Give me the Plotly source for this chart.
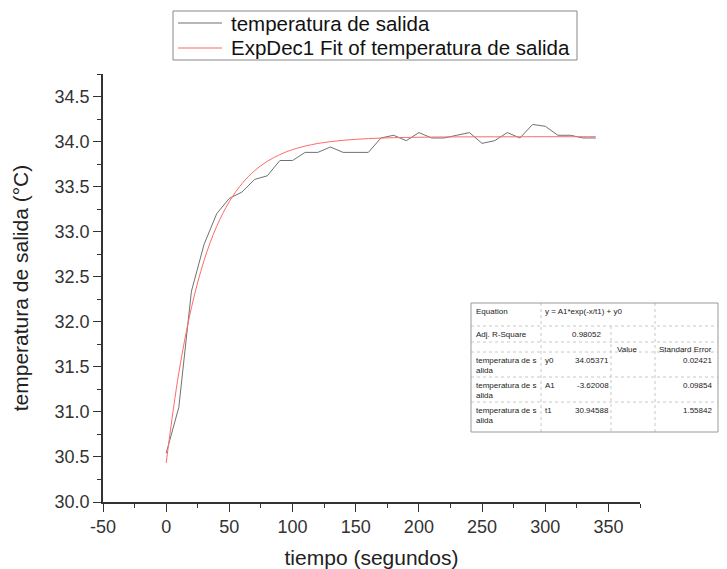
import plotly.graph_objects as go

# ---------------- data ----------------
tiempo = [0, 10, 20, 30, 40, 50, 60, 70, 80, 90, 100, 110, 120, 130, 140, 150, 160,
          170, 180, 190, 200, 210, 220, 230, 240, 250, 260, 270, 280, 290, 300, 310,
          320, 330, 340]
temperatura = [30.54, 31.05, 32.34, 32.86, 33.20, 33.37, 33.44, 33.58, 33.62, 33.79,
               33.79, 33.88, 33.88, 33.94, 33.88, 33.88, 33.88, 34.04, 34.07, 34.01,
               34.10, 34.04, 34.04, 34.07, 34.10, 33.98, 34.01, 34.10, 34.04, 34.19,
               34.17, 34.07, 34.07, 34.04, 34.04]
ajuste = [30.434, 31.433, 32.157, 32.681, 33.060, 33.334, 33.533, 33.677, 33.781,
          33.856, 33.911, 33.950, 33.979, 33.999, 34.014, 34.025, 34.033, 34.039,
          34.043, 34.046, 34.048, 34.050, 34.051, 34.052, 34.052, 34.053, 34.053,
          34.053, 34.053, 34.054, 34.054, 34.054, 34.054, 34.054, 34.054]

x_ticks = [-50, 0, 50, 100, 150, 200, 250, 300, 350]
x_ticklabels = ["-50", "0", "50", "100", "150", "200", "250", "300", "350"]

serie_datos = "temperatura de salida"
serie_ajuste = "ExpDec1 Fit of temperatura de salida"
x_titulo = "tiempo (segundos)"
y_titulo = "temperatura de salida (°C)"

tabla_etiquetas = ["Equation", "Adj. R-Square", "", "temperatura de s<br>alida",
                   "temperatura de s<br>alida", "temperatura de s<br>alida"]
tabla_param = ["y = A1*exp(-x/t1) + y0", "", "", "y0", "A1", "t1"]
tabla_valor = ["", "0.98052", "", "34.05371", "-3.62008", "30.94588"]
tabla_error = ["", "", "", "0.02421", "0.09854", "1.55842"]
tabla_cab = ["Value", "Standard Error"]

# ---------------- layout helpers ----------------
W, H = 727, 569
L, R, T, B = 103, 640, 74, 502


def px(x):
    return (x - L) / (R - L)


def py(y):
    return (B - y) / (B - T)


color_datos = "#707070"
color_ajuste = "#ff6a6a"

fig = go.Figure()
fig.add_trace(go.Scatter(x=tiempo, y=temperatura, mode="lines", name=serie_datos,
                         showlegend=False, line=dict(color=color_datos, width=1)))
fig.add_trace(go.Scatter(x=tiempo, y=ajuste, mode="lines", name=serie_ajuste,
                         showlegend=False,
                         line=dict(color=color_ajuste, width=1, shape="spline")))

font_fam = "Liberation Sans, Arial, sans-serif"
axis_common = dict(showline=True, linecolor="#333333", linewidth=1.5, ticks="outside",
                   ticklen=8, tickwidth=1.3, tickcolor="#333333", showgrid=False,
                   zeroline=False, mirror=False, automargin=False,
                   tickfont=dict(family=font_fam, size=18, color="#333333"))

shapes = []
annotations = []

# ---- legend box (drawn manually to match spacing) ----
shapes.append(dict(type="rect", xref="paper", yref="paper", x0=px(173), x1=px(577),
                   y0=py(60), y1=py(11), line=dict(color="#888888", width=1),
                   fillcolor="white", layer="above"))
for yc, name, col in [(23, serie_datos, color_datos), (48, serie_ajuste, color_ajuste)]:
    shapes.append(dict(type="line", xref="paper", yref="paper", x0=px(178), x1=px(222),
                       y0=py(yc), y1=py(yc), line=dict(color=col, width=1.2)))
    annotations.append(dict(xref="paper", yref="paper", x=px(229), y=py(yc),
                            xanchor="left", yanchor="middle", text=name, showarrow=False,
                            font=dict(family=font_fam, size=20.5, color="#111111")))

# ---- table ----
tx0, tx1 = 471, 718
col_lines = [541, 611, 655]
row_lines = [303, 326, 342, 352, 377, 402, 432]
gc = "#c8c8c8"
for yv in row_lines[1:-1]:
    shapes.append(dict(type="line", xref="paper", yref="paper", x0=px(tx0), x1=px(tx1),
                       y0=py(yv), y1=py(yv), line=dict(color=gc, width=1, dash="dot")))
for xv in col_lines:
    ytop = row_lines[0] if xv != 611 else row_lines[1]
    shapes.append(dict(type="line", xref="paper", yref="paper", x0=px(xv), x1=px(xv),
                       y0=py(ytop), y1=py(row_lines[-1]),
                       line=dict(color=gc, width=1, dash="dot")))
shapes.append(dict(type="rect", xref="paper", yref="paper", x0=px(tx0), x1=px(tx1),
                   y0=py(row_lines[-1]), y1=py(row_lines[0]),
                   line=dict(color="#9a9a9a", width=1), fillcolor="rgba(0,0,0,0)"))

tfont = dict(family=font_fam, size=8, color="#222222")
for i in range(6):
    ytop = row_lines[i] + 2
    if tabla_etiquetas[i]:
        annotations.append(dict(xref="paper", yref="paper", x=px(474), y=py(ytop),
                                xanchor="left", yanchor="top", text=tabla_etiquetas[i],
                                showarrow=False, font=tfont, align="left"))
    if tabla_param[i]:
        annotations.append(dict(xref="paper", yref="paper", x=px(543), y=py(ytop),
                                xanchor="left", yanchor="top", text=tabla_param[i],
                                showarrow=False, font=tfont))
    if tabla_valor[i]:
        xr = 603 if i == 1 else 611
        annotations.append(dict(xref="paper", yref="paper", x=px(xr), y=py(ytop),
                                xanchor="right", yanchor="top", text=tabla_valor[i],
                                showarrow=False, font=tfont))
    if tabla_error[i]:
        annotations.append(dict(xref="paper", yref="paper", x=px(714), y=py(ytop),
                                xanchor="right", yanchor="top", text=tabla_error[i],
                                showarrow=False, font=tfont))
annotations.append(dict(xref="paper", yref="paper", x=px(615), y=py(row_lines[2] + 1),
                        xanchor="left", yanchor="top", text=tabla_cab[0],
                        showarrow=False, font=tfont))
annotations.append(dict(xref="paper", yref="paper", x=px(657), y=py(row_lines[2] + 1),
                        xanchor="left", yanchor="top", text=tabla_cab[1],
                        showarrow=False, font=tfont))

fig.update_layout(
    width=W, height=H,
    margin=dict(l=L, r=W - R, t=T, b=H - B, pad=0, autoexpand=False),
    paper_bgcolor="white", plot_bgcolor="white",
    font=dict(family=font_fam, color="#222222"),
    xaxis=dict(range=[-50, 375], tickmode="array", tickvals=x_ticks, ticktext=x_ticklabels,
               title=dict(text=x_titulo, font=dict(family=font_fam, size=21, color="#222222"),
                          standoff=17),
               minor=dict(dtick=25, tick0=0, ticklen=4, ticks="outside", tickcolor="#333333",
                          tickwidth=1.3, showgrid=False),
               **axis_common),
    yaxis=dict(range=[30, 34.75], dtick=0.5, tick0=30, tickformat=".1f",
               title=dict(text=y_titulo, font=dict(family=font_fam, size=21, color="#222222"),
                          standoff=20),
               minor=dict(dtick=0.25, ticklen=4, ticks="outside", tickcolor="#333333",
                          tickwidth=1.3, showgrid=False),
               **axis_common),
    showlegend=False,
    shapes=shapes,
    annotations=annotations,
)

fig.write_html("out.html")
